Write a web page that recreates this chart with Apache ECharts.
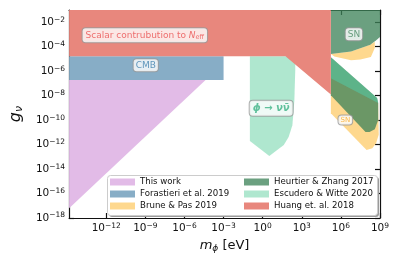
<!DOCTYPE html>
<html>
<head>
<meta charset="utf-8">
<script src="https://cdn.jsdelivr.net/npm/echarts@6/dist/echarts.min.js"></script>
<style>
html,body{margin:0;padding:0;background:#fff;}
#c{width:399px;height:266px;}
</style>
</head>
<body>
<div id="c"></div>
<script>
// ---- data (log10 of m_phi [eV], log10 of g_nu) ----
const xMin = -14.85, xMax = 9, yMin = -18, yMax = -1;
const xTicks = [-12, -9, -6, -3, 0, 3, 6, 9];
const yTicks = [-18, -16, -14, -12, -10, -8, -6, -4, -2];

const thisWork = [[-14.85, -6.73], [-4.38, -6.73], [-14.85, -17.2]];
const forastieri = [[-14.85, -4.78], [-3.0, -4.78], [-3.0, -6.73], [-14.85, -6.73]];
const brunePasUpper = [[5.23, -4.6], [6.78, -4.4], [8.26, -3.85], [8.6, -3.6], [8.6, -4.1], [8.3, -4.85], [7.5, -5.05], [6.78, -5.1], [5.5, -4.8]];
const brunePasLower = [[5.23, -6.57], [8.86, -8.61], [8.9, -11.2], [8.7, -11.9], [8.41, -12.29], [7.97, -12.45], [5.23, -9.43]];
const heurtierUpper = [[5.23, -1], [9, -1], [9, -3.2], [8.71, -3.47], [8.26, -3.85], [6.78, -4.4], [5.23, -4.6]];
const heurtierBand = [[5.23, -4.86], [8.78, -8.2], [8.86, -8.6], [8.86, -10.0], [8.6, -10.75], [8.2, -10.98], [7.89, -10.98], [5.23, -7.96]];
const escuderoMain = [[-0.98, -4.78], [2.1, -4.78], [2.4, -5.05], [2.5, -5.5], [2.5, -5.92], [2.43, -8.37], [2.28, -10.41], [1.99, -11.39], [1.62, -12.04], [0.51, -12.94], [-0.98, -11.71]];
const escuderoStrip = [[5.23, -4.86], [8.78, -8.2], [8.86, -8.61], [5.23, -6.57]];
const huang = [[-14.85, -1], [5.23, -1], [5.23, -7.9], [1.75, -4.78], [-14.85, -4.78]];

const annotations = [
  { name: 'neff', x: -9.04, y: -3.06 },
  { name: 'cmb', x: -8.97, y: -5.51 },
  { name: 'snUp', x: 7.0, y: -2.98 },
  { name: 'snLow', x: 6.34, y: -10.0 },
  { name: 'phi', x: 0.65, y: -9.02 }
];

const FONT = 'DejaVu Sans';

function polySeries(name, color, polys) {
  return {
    type: 'custom',
    name: name,
    coordinateSystem: 'cartesian2d',
    clip: true,
    itemStyle: { color: color },
    data: polys.map(p => p[0]),
    renderItem: function (params, api) {
      const poly = polys[params.dataIndex];
      return {
        type: 'polygon',
        shape: { points: poly.map(pt => api.coord(pt)) },
        style: { fill: color }
      };
    }
  };
}

function expLabel(v) {
  return '{b|10}{s|' + (v < 0 ? '\u2212' : '') + Math.abs(v) + '}';
}
const tickRich = {
  b: { fontSize: 10.5, lineHeight: 13, fontFamily: FONT, color: '#111' },
  s: { fontSize: 7.5, lineHeight: 7, verticalAlign: 'top', fontFamily: FONT, color: '#111' }
};

const boxStyle = {
  backgroundColor: '#fff', borderColor: '#999', borderWidth: 1, borderRadius: 3
};
const labelCfg = {
  neff: Object.assign({}, boxStyle, {
    formatter: '{t|Scalar contrubution to }{n|N}{s|eff}',
    padding: [1, 3, 1, 3],
    rich: {
      t: { fontSize: 9, lineHeight: 12, color: '#ea4f4f', fontFamily: FONT },
      n: { fontSize: 9, lineHeight: 12, color: '#ea4f4f', fontStyle: 'italic', fontFamily: FONT },
      s: { fontSize: 6.5, lineHeight: 6, verticalAlign: 'bottom', color: '#ea4f4f', fontFamily: FONT }
    }
  }),
  cmb: Object.assign({}, boxStyle, { formatter: 'CMB', fontSize: 9, color: '#3f7fad', padding: [2, 2, 1, 2], fontFamily: FONT }),
  snUp: Object.assign({}, boxStyle, { formatter: 'SN', fontSize: 9, color: '#4a8a64', padding: [2, 2, 1, 2], fontFamily: FONT }),
  snLow: Object.assign({}, boxStyle, { formatter: 'SN', fontSize: 7, color: '#f5a623', padding: [1, 2, 1, 2], fontFamily: FONT }),
  phi: Object.assign({}, boxStyle, { formatter: '\u03D5 \u2192 \u03BD\u03BD\u0304', fontSize: 10, fontStyle: 'italic', fontWeight: 'bold', color: '#3cb184', padding: [3, 3, 2, 3], fontFamily: FONT })
};

const axisLineStyle = { color: '#111', width: 1.2 };

const option = {
  animation: false,
  backgroundColor: '#fff',
  textStyle: { fontFamily: FONT },
  grid: { left: 57.5, right: 19, top: 10, bottom: 48, containLabel: false },
  xAxis: [{
    type: 'value', min: xMin, max: xMax, position: 'bottom',
    axisLine: { show: true, onZero: false, lineStyle: axisLineStyle },
    axisTick: { show: true, inside: true, length: 5, lineStyle: { width: 1.2, color: '#111' }, customValues: xTicks },
    axisLabel: { show: true, margin: 4, customValues: xTicks, formatter: expLabel, rich: tickRich },
    splitLine: { show: false },
    name: '{m|m}{s|\u03D5}{t| [eV]}', nameLocation: 'middle', nameGap: 17,
    nameTextStyle: {
      rich: {
        m: { fontSize: 13, fontStyle: 'italic', lineHeight: 16, fontFamily: FONT, color: '#111' },
        s: { fontSize: 9, fontStyle: 'italic', lineHeight: 8, verticalAlign: 'bottom', fontFamily: FONT, color: '#111' },
        t: { fontSize: 13, lineHeight: 16, fontFamily: FONT, color: '#111' }
      }
    }
  }, {
    type: 'value', min: xMin, max: xMax, position: 'top',
    axisLine: { show: true, onZero: false, lineStyle: axisLineStyle },
    axisTick: { show: true, inside: true, length: 5, lineStyle: { width: 1.2, color: '#111' }, customValues: xTicks },
    axisLabel: { show: false },
    splitLine: { show: false }
  }],
  yAxis: [{
    type: 'value', min: yMin, max: yMax, position: 'left',
    axisLine: { show: true, onZero: false, lineStyle: axisLineStyle },
    axisTick: { show: true, inside: true, length: 5, lineStyle: { width: 1.2, color: '#111' }, customValues: yTicks },
    axisLabel: { show: true, margin: 4, customValues: yTicks, formatter: expLabel, rich: tickRich },
    splitLine: { show: false },
    name: '{g|g}{s|\u03BD}', nameLocation: 'middle', nameGap: 31, nameRotate: 90,
    nameTextStyle: {
      rich: {
        g: { fontSize: 16, fontStyle: 'italic', lineHeight: 18, fontFamily: FONT, color: '#111' },
        s: { fontSize: 11, fontStyle: 'italic', lineHeight: 8, verticalAlign: 'bottom', fontFamily: FONT, color: '#111' }
      }
    }
  }, {
    type: 'value', min: yMin, max: yMax, position: 'right',
    axisLine: { show: true, onZero: false, lineStyle: axisLineStyle },
    axisTick: { show: true, inside: true, length: 5, lineStyle: { width: 1.2, color: '#111' }, customValues: yTicks },
    axisLabel: { show: false },
    splitLine: { show: false }
  }],
  graphic: [{
    type: 'rect', left: 109, top: 177, z: 5,
    shape: { width: 270, height: 40, r: 3 },
    style: { fill: '#9a9a9a', stroke: null }
  }, {
    type: 'rect', left: 107, top: 175, z: 5,
    shape: { width: 270, height: 40, r: 3 },
    style: { fill: '#ffffff', stroke: '#cccccc', lineWidth: 1 }
  }],
  legend: [{
    data: ['This work', 'Forastieri et al. 2019', 'Brune & Pas 2019'],
    orient: 'vertical', left: 110, top: 176, padding: 0, itemGap: 0,
    itemWidth: 25, itemHeight: 7, icon: 'rect', z: 6,
    textStyle: { fontSize: 8.6, lineHeight: 12, color: '#111', fontFamily: FONT },
    selectedMode: false
  }, {
    data: ['Heurtier & Zhang 2017', 'Escudero & Witte 2020', 'Huang et. al. 2018'],
    orient: 'vertical', left: 244, top: 176, padding: 0, itemGap: 0,
    itemWidth: 25, itemHeight: 7, icon: 'rect', z: 6,
    textStyle: { fontSize: 8.6, lineHeight: 12, color: '#111', fontFamily: FONT },
    selectedMode: false
  }],
  series: [
    polySeries('This work', '#e2bbe7', [thisWork]),
    polySeries('Forastieri et al. 2019', '#87adc6', [forastieri]),
    polySeries('Brune & Pas 2019', '#fed88e', [brunePasUpper, brunePasLower]),
    polySeries('Heurtier & Zhang 2017', 'rgba(62,132,90,0.77)', [heurtierUpper, heurtierBand]),
    polySeries('Escudero & Witte 2020', 'rgba(77,201,149,0.45)', [escuderoMain, escuderoStrip]),
    polySeries('Huang et. al. 2018', '#e8877d', [huang]),
    {
      type: 'scatter', name: 'annotations', symbolSize: 0, z: 4, silent: true,
      data: annotations.map(a => ({
        value: [a.x, a.y],
        label: Object.assign({ show: true, position: 'inside' }, labelCfg[a.name])
      }))
    }
  ]
};

const chart = echarts.init(document.getElementById('c'), null, { renderer: 'canvas' });
chart.setOption(option);
</script>
</body>
</html>
